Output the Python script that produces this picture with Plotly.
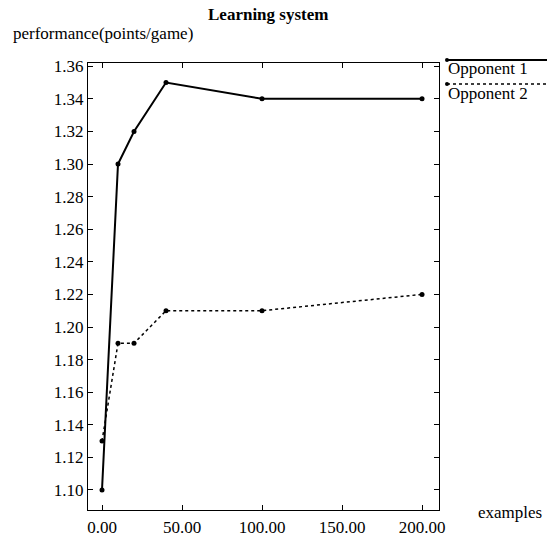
import plotly.graph_objects as go

examples = [0, 10, 20, 40, 100, 200]
opponent1 = [1.10, 1.30, 1.32, 1.35, 1.34, 1.34]
opponent2 = [1.13, 1.19, 1.19, 1.21, 1.21, 1.22]
series_names = ["Opponent 1", "Opponent 2"]
x_ticks = [0, 50, 100, 150, 200]

FONT = "Liberation Serif, Times New Roman, serif"
FS = 17
L, R, T, B = 88, 108, 63, 29
W, H = 547, 539
pw, ph = W - L - R, H - T - B

def px_x(p):
    return (p - L) / pw

def px_y(p):
    return (H - B - p) / ph

fig = go.Figure()
fig.add_trace(go.Scatter(x=examples, y=opponent1, mode="lines+markers", name=series_names[0],
                         line=dict(color="black", width=2), marker=dict(color="black", size=5)))
fig.add_trace(go.Scatter(x=examples, y=opponent2, mode="lines+markers", name=series_names[1],
                         line=dict(color="black", width=1.5, dash="dot"), marker=dict(color="black", size=5)))

shapes = []
annotations = []
# custom legend: line above text with marker at left end
leg_x0 = px_x(447)
leg_x1 = px_x(547)
for i, (name, dash, lw) in enumerate([(series_names[0], "solid", 2), (series_names[1], "dot", 1.5)]):
    ly = px_y(60 + i * 24)
    ty = px_y(69 + i * 24)
    shapes.append(dict(type="line", xref="paper", yref="paper", x0=leg_x0, x1=leg_x1, y0=ly, y1=ly,
                       line=dict(color="black", width=lw, dash=dash)))
    shapes.append(dict(type="circle", xref="paper", yref="paper",
                       x0=leg_x0 - 2 / pw, x1=leg_x0 + 2 / pw, y0=ly - 2 / ph, y1=ly + 2 / ph,
                       fillcolor="black", line=dict(color="black", width=0)))
    annotations.append(dict(text=name, xref="paper", yref="paper", x=px_x(446), y=ty,
                            xanchor="left", yanchor="middle", showarrow=False,
                            font=dict(family=FONT, size=FS, color="black")))

annotations.append(dict(text="<b>Learning system</b>", xref="paper", yref="paper", x=px_x(268), y=px_y(15),
                        xanchor="center", yanchor="middle", showarrow=False,
                        font=dict(family=FONT, size=FS, color="black")))
annotations.append(dict(text="performance(points/game)", xref="paper", yref="paper", x=px_x(11), y=px_y(33),
                        xanchor="left", yanchor="middle", showarrow=False,
                        font=dict(family=FONT, size=FS, color="black")))
annotations.append(dict(text="examples", xref="paper", yref="paper", x=px_x(476), y=px_y(512),
                        xanchor="left", yanchor="middle", showarrow=False,
                        font=dict(family=FONT, size=FS, color="black")))

fig.update_layout(
    width=W, height=H,
    margin=dict(l=L, r=R, t=T, b=B, pad=0, autoexpand=False),
    paper_bgcolor="white", plot_bgcolor="white",
    showlegend=False,
    shapes=shapes, annotations=annotations,
    font=dict(family=FONT, size=FS, color="black"),
)
fig.update_xaxes(range=[-8.75, 210.6], tickvals=x_ticks, tickformat=".2f",
                 ticks="inside", ticklen=5, tickcolor="black", mirror="ticks",
                 showline=True, linecolor="black", linewidth=1, showgrid=False, zeroline=False,
                 automargin=False, ticklabelstandoff=2,
                 tickfont=dict(family=FONT, size=FS, color="black"))
fig.update_yaxes(range=[1.0877, 1.362], dtick=0.02, tick0=1.10, tickformat=".2f",
                 ticks="inside", ticklen=5, tickcolor="black", mirror="ticks",
                 showline=True, linecolor="black", linewidth=1, showgrid=False, zeroline=False,
                 automargin=False,
                 tickfont=dict(family=FONT, size=FS, color="black"))

fig.write_html("out.html")
